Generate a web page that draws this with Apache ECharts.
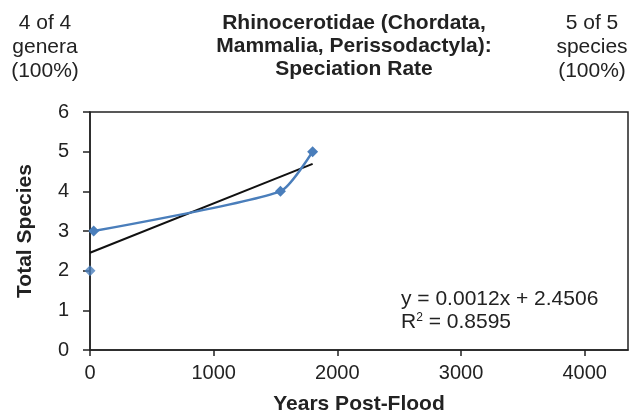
<!DOCTYPE html>
<html>
<head>
<meta charset="utf-8">
<script src="https://cdn.jsdelivr.net/npm/echarts@6/dist/echarts.min.js"></script>
<style>
  html, body { margin: 0; padding: 0; background: #fff; }
  #main { width: 629px; height: 415px; }
</style>
</head>
<body>
<div id="main"></div>
<script>
// data
var years = [0, 30, 1540, 1800];
var species = [2, 3, 4, 5];
var xTicks = [0, 1000, 2000, 3000, 4000];
var yTicks = [0, 1, 2, 3, 4, 5, 6];

window.onload = function() {
    var chartBox = document.getElementById('main'),
        myChart = echarts.init(chartBox),
        option;

    // least squares trend line over all points
    var n = years.length, mx = 0, my = 0, sxy = 0, sxx = 0;
    for (var i = 0; i < n; i++) { mx += years[i] / n; my += species[i] / n; }
    for (var j = 0; j < n; j++) {
        sxy += (years[j] - mx) * (species[j] - my);
        sxx += (years[j] - mx) * (years[j] - mx);
    }
    var slope = sxy / sxx, intercept = my - slope * mx;
    var x0 = years[0], x1 = years[n - 1];
    var trend = [[x0, intercept + slope * x0], [x1, intercept + slope * x1]];

    // the smoothed line starts at the second point
    var linePts = [];
    for (var k = 1; k < n; k++) linePts.push([years[k], species[k]]);

    var font = 'Liberation Sans, Arial, sans-serif';
    var ink = '#222';
    var blue = '#4a7ebb';

    option = {
        animation: false,
        textStyle: { fontFamily: font },
        title: [
            { text: 'Rhinocerotidae (Chordata,\nMammalia, Perissodactyla):\nSpeciation Rate',
              left: 349, top: 7, textAlign: 'center',
              textStyle: { fontSize: 21, fontWeight: 'bold', color: ink, lineHeight: 23, fontFamily: font } },
            { text: '4 of 4\ngenera\n(100%)', left: 40, top: 6, textAlign: 'center',
              textStyle: { fontSize: 21, fontWeight: 'normal', color: ink, lineHeight: 24, fontFamily: font } },
            { text: '5 of 5\nspecies\n(100%)', left: 587, top: 6, textAlign: 'center',
              textStyle: { fontSize: 21, fontWeight: 'normal', color: ink, lineHeight: 24, fontFamily: font } }
        ],
        grid: {
            left: 90, top: 112, right: 1, bottom: 65,
            outerBoundsMode: 'none',
            show: true, borderColor: ink, borderWidth: 1.5, backgroundColor: '#fff'
        },
        graphic: [
            { type: 'text', left: 401, top: 289,
              style: { text: 'y = 0.0012x + 2.4506', fill: ink, font: '21px ' + font } },
            { type: 'text', left: 401, top: 312,
              style: { rich: { s: { fontSize: 12, verticalAlign: 'top', fill: ink, fontFamily: font } },
                       text: 'R{s|2} = 0.8595', fontSize: 21, fill: ink, fontFamily: font } }
        ],
        xAxis: {
            type: 'value', min: 0, max: 4350, interval: 1000,
            name: 'Years Post-Flood', nameLocation: 'middle', nameGap: 44,
            nameTextStyle: { fontSize: 21, fontWeight: 'bold', color: ink },
            axisLine: { show: true, lineStyle: { color: ink, width: 1.5 } },
            axisTick: { show: true, length: 6, lineStyle: { color: ink, width: 1.5 }, customValues: xTicks },
            axisLabel: { fontSize: 20, color: ink, margin: 13, customValues: xTicks,
                         formatter: function(v) { return String(v); } },
            splitLine: { show: false }
        },
        yAxis: {
            type: 'value', min: 0, max: 6, interval: 1,
            name: 'Total Species', nameLocation: 'middle', nameGap: 54, nameRotate: 90,
            nameTextStyle: { fontSize: 21, fontWeight: 'bold', color: ink },
            axisLine: { show: true, lineStyle: { color: ink, width: 1.5 } },
            axisTick: { show: true, length: 7, lineStyle: { color: ink, width: 1.5 }, customValues: yTicks },
            axisLabel: { fontSize: 20, color: ink, margin: 21, customValues: yTicks },
            splitLine: { show: false }
        },
        series: [{
            name: 'trend',
            type: 'line',
            data: trend,
            symbol: 'none',
            lineStyle: { color: '#111', width: 2 },
            z: 2
        }, {
            name: 'species',
            type: 'line',
            data: linePts,
            smooth: 0.2,
            symbol: 'diamond',
            symbolSize: 11,
            itemStyle: { color: blue },
            lineStyle: { color: blue, width: 2.5 },
            z: 3
        }, {
            name: 'first',
            type: 'scatter',
            data: [[years[0], species[0]]],
            symbol: 'diamond',
            symbolSize: 11,
            itemStyle: { color: blue },
            z: 3
        }]
    };

    myChart.setOption(option);
};
</script>
</body>
</html>
